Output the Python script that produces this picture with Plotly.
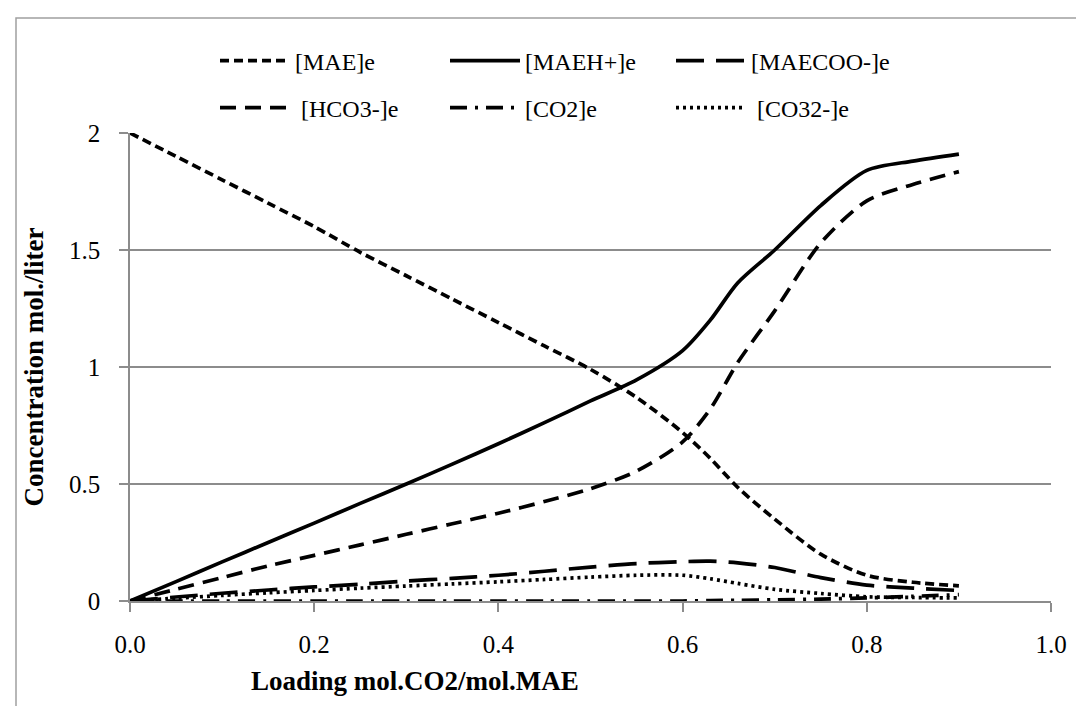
import plotly.graph_objects as go

# ---------------- data ----------------
loading = [0, 0.05, 0.1, 0.15, 0.2, 0.25, 0.3, 0.35, 0.4, 0.45, 0.5, 0.55,
           0.6, 0.63, 0.66, 0.7, 0.75, 0.8, 0.85, 0.9]

mae = [2.0, 1.90, 1.80, 1.70, 1.60, 1.49, 1.39, 1.29, 1.19, 1.09, 0.99, 0.87,
       0.72, 0.61, 0.485, 0.35, 0.20, 0.11, 0.08, 0.065]
maeh = [0, 0.083, 0.167, 0.25, 0.333, 0.417, 0.50, 0.585, 0.672, 0.762, 0.855, 0.945,
        1.07, 1.20, 1.36, 1.50, 1.69, 1.84, 1.88, 1.91]
maecoo = [0, 0.017, 0.033, 0.047, 0.06, 0.072, 0.085, 0.097, 0.11, 0.127, 0.145, 0.16,
          0.168, 0.17, 0.163, 0.143, 0.10, 0.068, 0.055, 0.045]
hco3 = [0, 0.05, 0.10, 0.15, 0.195, 0.24, 0.285, 0.33, 0.375, 0.425, 0.48, 0.555,
        0.68, 0.82, 1.02, 1.24, 1.53, 1.71, 1.78, 1.835]
co2 = [0, 0, 0, 0, 0, 0, 0, 0, 0, 0, 0, 0,
       0, 0.002, 0.003, 0.005, 0.008, 0.013, 0.02, 0.027]
co32 = [0, 0.012, 0.024, 0.035, 0.045, 0.055, 0.064, 0.073, 0.082, 0.092, 0.102, 0.11,
        0.11, 0.095, 0.075, 0.05, 0.032, 0.018, 0.015, 0.013]

names = ["[MAE]e", "[MAEH+]e", "[MAECOO-]e", "\u00a0[HCO3-]e", "[CO2]e", "\u00a0[CO32-]e"]
values = [mae, maeh, maecoo, hco3, co2, co32]

x_ticks = [0.0, 0.2, 0.4, 0.6, 0.8, 1.0]
x_ticklabels = ["0.0", "0.2", "0.4", "0.6", "0.8", "1.0"]
y_ticks = [0, 0.5, 1, 1.5, 2]
y_ticklabels = ["0", "0.5", "1", "1.5", "2"]

# ---------------- styling ----------------
W, H = 1084, 706
ML, MR, MT, MB = 122, 41, 125, 113
FONT = "Liberation Serif"
GRID = "#8c8c8c"

dashes = ["9px,5px", "solid", "28px,12px", "16px,9px", "17px,8px,3px,8px", "3px,4px"]
# legend placement (pixel positions of sample start, row centre)
leg_x = [212, 442, 668, 212, 442, 668]
leg_y = [53, 53, 53, 100, 100, 100]
leg_ids = ["legend", "legend2", "legend3", "legend4", "legend5", "legend6"]

fig = go.Figure()
for nm, vals, dsh, lid in zip(names, values, dashes, leg_ids):
    fig.add_trace(go.Scatter(
        x=loading, y=vals, name=nm, mode="lines",
        line=dict(color="black", width=3.7, dash=dsh, shape="spline", smoothing=0.8),
        legend=lid, cliponaxis=False,
    ))

layout_legends = {}
for lid, lx, ly in zip(leg_ids, leg_x, leg_y):
    layout_legends[lid] = dict(
        xref="container", yref="container",
        x=(lx - 5) / W, y=1 - ly / H, xanchor="left", yanchor="middle",
        orientation="h", itemwidth=70, bgcolor="rgba(0,0,0,0)",
        font=dict(family=FONT, size=24, color="black"),
        itemclick=False, itemdoubleclick=False,
    )

fig.update_layout(
    width=W, height=H,
    margin=dict(l=ML, r=MR, t=MT, b=MB, pad=0, autoexpand=False),
    paper_bgcolor="white", plot_bgcolor="white",
    showlegend=True,
    font=dict(family=FONT, size=25, color="black"),
    **layout_legends,
)

fig.update_xaxes(
    range=[0, 1], tickvals=x_ticks, ticktext=x_ticklabels,
    showgrid=False, zeroline=False,
    showline=True, linecolor=GRID, linewidth=1.5,
    ticks="outside", ticklen=9, tickwidth=1.5, tickcolor=GRID,
    ticklabelstandoff=11,
    tickfont=dict(family=FONT, size=25, color="black"),
)
fig.update_yaxes(
    range=[0, 2], tickvals=y_ticks, ticktext=y_ticklabels,
    showgrid=True, gridcolor=GRID, gridwidth=1.5, zeroline=False,
    showline=True, linecolor=GRID, linewidth=1.5,
    ticks="outside", ticklen=9, tickwidth=1.5, tickcolor=GRID,
    ticklabelstandoff=14,
    tickfont=dict(family=FONT, size=25, color="black"),
    title=dict(text="<b>Concentration mol./liter</b>", standoff=18,
               font=dict(family=FONT, size=27, color="black")),
)

# x-axis title (offset to the left as in the reference)
fig.add_annotation(
    text="<b>Loading mol.CO2/mol.MAE</b>", xref="paper", yref="paper",
    x=(407 - ML) / (W - ML - MR), y=-(673 - (H - MB)) / (H - MT - MB),
    xanchor="center", yanchor="middle", showarrow=False,
    font=dict(family=FONT, size=27, color="black"),
)

# chart-area border
pw, ph = W - ML - MR, H - MT - MB
fig.add_shape(
    type="rect", xref="paper", yref="paper", layer="below",
    x0=(8 - ML) / pw, x1=(1082 - ML) / pw,
    y0=-(H + 20 - (H - MB)) / ph, y1=((H - MB) - 10) / ph,
    line=dict(color="#a0a0a0", width=1.5), fillcolor="rgba(0,0,0,0)",
)

fig.write_html("out.html")
